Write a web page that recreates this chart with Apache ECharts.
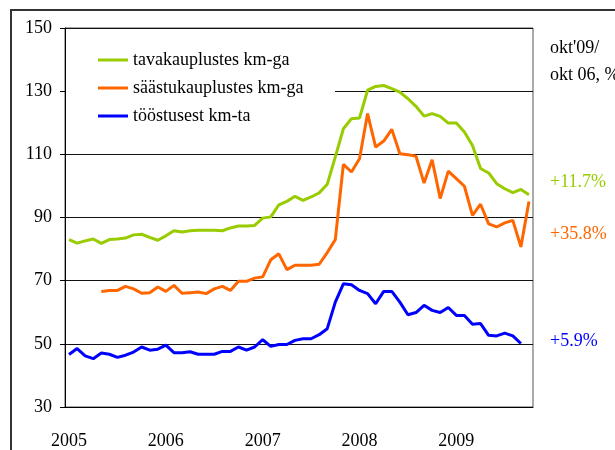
<!DOCTYPE html>
<html>
<head>
<meta charset="utf-8">
<script src="https://cdn.jsdelivr.net/npm/echarts@6/dist/echarts.min.js"></script>
<style>
  html, body { margin: 0; padding: 0; background: #fff; }
  #chart { width: 615px; height: 450px; }
</style>
</head>
<body>
<div id="chart"></div>
<script>
// kuud jaan 2005 - okt 2009
var years = ['2005', '2006', '2007', '2008', '2009'];
var months = [];
for (var y = 0; y < years.length; y++) {
	for (var m = 1; m <= 12; m++) {
		if (y === 4 && m > 10) break;
		months.push(years[y] + '-' + (m < 10 ? '0' + m : m));
	}
}

var seriesNames = ['tavakauplustes km-ga', 'säästukauplustes km-ga', 'tööstusest km-ta'];
var colors = ['#99cc00', '#ff6600', '#0000ff'];

var tavakauplus = [
	83.0, 81.9, 82.6, 83.2, 81.8, 83.0, 83.2, 83.5, 84.5, 84.7, 83.7, 82.8,
	84.2, 85.8, 85.4, 85.8, 86.0, 86.0, 86.0, 85.8, 86.7, 87.3, 87.3, 87.5,
	89.8, 90.2, 94.0, 95.1, 96.7, 95.4, 96.5, 97.8, 100.5, 109.2, 118.1, 121.3,
	121.5, 130.3, 131.5, 131.8, 130.8, 129.7, 127.6, 125.2, 122.1, 122.9, 122.0, 119.9,
	119.9, 117.1, 112.8, 105.5, 104.1, 100.7, 99.1, 97.9, 98.9, 97.2
];
var saastukauplus = [
	null, null, null, null, 66.6, 66.9, 66.9, 68.2, 67.4, 66.0, 66.2, 68.0,
	66.6, 68.5, 66.0, 66.2, 66.4, 65.9, 67.4, 68.2, 66.9, 69.8, 69.8, 70.8,
	71.2, 76.6, 78.5, 73.5, 74.9, 74.9, 74.9, 75.2, 78.9, 83.0, 106.8, 104.4,
	108.6, 122.9, 112.3, 114.2, 117.9, 110.2, 109.9, 109.4, 100.9, 108.3, 96.0, 104.7,
	102.3, 99.9, 90.7, 94.2, 88.0, 87.0, 88.3, 89.1, 80.7, 95.1
];
var toostus = [
	46.6, 48.5, 46.2, 45.3, 47.1, 46.7, 45.7, 46.4, 47.4, 49.0, 48.0, 48.3,
	49.6, 47.2, 47.2, 47.5, 46.7, 46.7, 46.7, 47.6, 47.6, 49.0, 48.0, 49.0,
	51.3, 49.2, 49.8, 49.8, 51.1, 51.6, 51.6, 52.9, 54.8, 63.2, 69.0, 68.7,
	66.9, 65.9, 62.7, 66.6, 66.6, 63.2, 59.2, 59.9, 62.2, 60.6, 59.9, 61.5,
	59.0, 59.0, 56.2, 56.4, 52.7, 52.5, 53.4, 52.5, 50.1, null
];

var noteTitle = ["okt'09/", 'okt 06, %'];
var noteValues = ['+11.7%', '+35.8%', '+5.9%'];

var font = "'Liberation Serif', 'Times New Roman', serif";

var chart = echarts.init(document.getElementById('chart'));
var option = {
	backgroundColor: '#fff',
	animation: false,
	textStyle: { fontFamily: font },
	grid: {
		left: 65, right: 82, top: 28, bottom: 43,
		show: true, borderColor: '#555', borderWidth: 1
	},
	legend: {
		orient: 'vertical',
		left: 98, top: 50,
		padding: 0,
		itemGap: 8,
		itemWidth: 30, itemHeight: 3,
		icon: 'rect',
		textStyle: { fontFamily: font, fontSize: 18, color: '#000', lineHeight: 20 },
		data: seriesNames
	},
	xAxis: {
		type: 'category',
		data: months,
		boundaryGap: true,
		axisLine: { lineStyle: { color: '#000', width: 1 } },
		axisTick: {
			length: 6, lineStyle: { color: '#000' },
			interval: function (i) { return i % 12 === 0; }
		},
		axisLabel: {
			interval: function (i) { return i % 12 === 0; },
			formatter: function (v) { return v.slice(0, 4); },
			fontFamily: font, fontSize: 18, color: '#000', margin: 25
		},
		splitLine: { show: false }
	},
	yAxis: {
		type: 'value',
		min: 30, max: 150, interval: 20,
		axisLine: { show: true, lineStyle: { color: '#000', width: 1 } },
		axisTick: { show: true, length: 5, lineStyle: { color: '#000' } },
		axisLabel: { fontFamily: font, fontSize: 18, color: '#000', margin: 13 },
		splitLine: { show: true, lineStyle: { color: '#111', width: 1 } }
	},
	graphic: [
		{
			type: 'rect', z: 1,
			shape: { x: 66, y: 33, width: 269, height: 100 },
			style: { fill: '#fff' }
		},
		{
			type: 'rect', z: 0,
			shape: { x: 11, y: 10, width: 700, height: 500 },
			style: { fill: 'none', stroke: '#333', lineWidth: 2 }
		},
		{ type: 'text', left: 550, top: 39, style: { text: noteTitle[0], font: '18px ' + font, fill: '#000' } },
		{ type: 'text', left: 550, top: 66, style: { text: noteTitle[1], font: '18px ' + font, fill: '#000' } },
		{ type: 'text', left: 550, top: 173, style: { text: noteValues[0], font: '18px ' + font, fill: colors[0] } },
		{ type: 'text', left: 550, top: 225, style: { text: noteValues[1], font: '18px ' + font, fill: colors[1] } },
		{ type: 'text', left: 550, top: 332, style: { text: noteValues[2], font: '18px ' + font, fill: colors[2] } }
	],
	series: [
		{ name: seriesNames[0], type: 'line', data: tavakauplus, showSymbol: false, symbol: 'none',
		  itemStyle: { color: colors[0] }, lineStyle: { color: colors[0], width: 3 } },
		{ name: seriesNames[1], type: 'line', data: saastukauplus, showSymbol: false, symbol: 'none',
		  itemStyle: { color: colors[1] }, lineStyle: { color: colors[1], width: 3 } },
		{ name: seriesNames[2], type: 'line', data: toostus, showSymbol: false, symbol: 'none',
		  itemStyle: { color: colors[2] }, lineStyle: { color: colors[2], width: 3 } }
	]
};
chart.setOption(option);
</script>
</body>
</html>
